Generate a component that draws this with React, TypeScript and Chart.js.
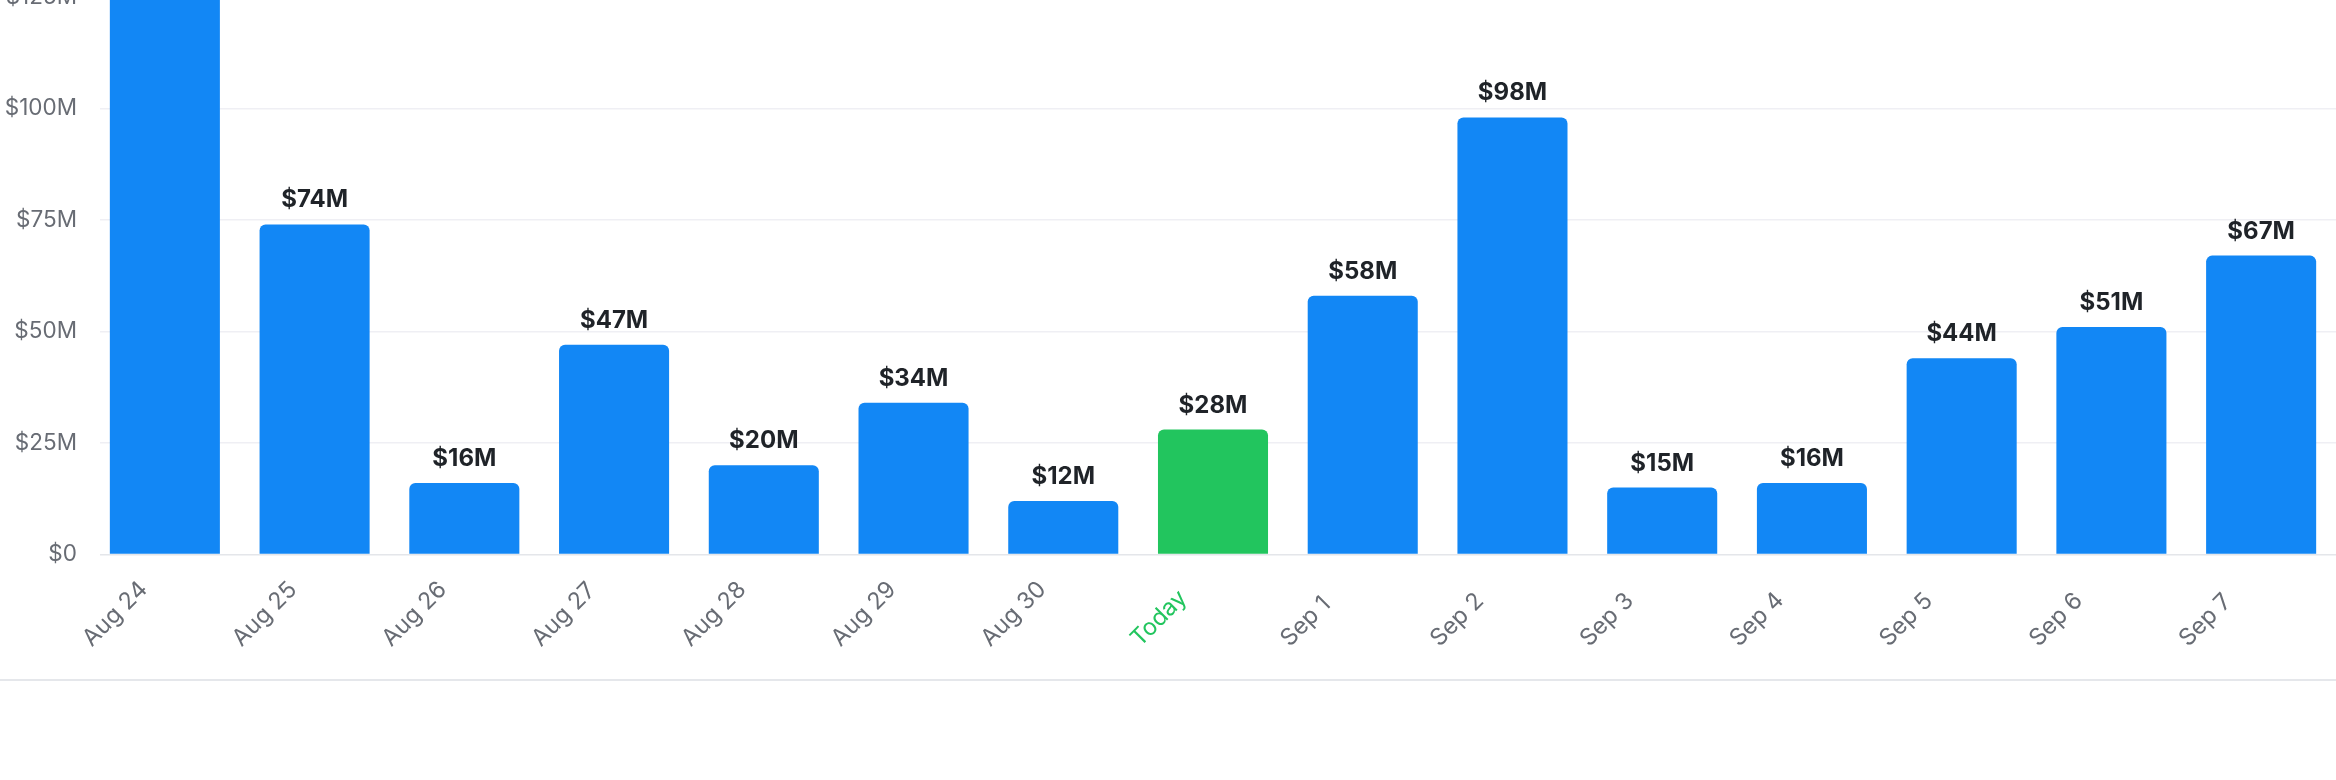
import { useEffect, useRef } from 'react';
import { Chart, registerables, Plugin } from 'chart.js';

Chart.register(...registerables);

// daily volume, in millions of dollars
const days = ['Aug 24', 'Aug 25', 'Aug 26', 'Aug 27', 'Aug 28', 'Aug 29', 'Aug 30', 'Today', 'Sep 1', 'Sep 2', 'Sep 3', 'Sep 4', 'Sep 5', 'Sep 6', 'Sep 7'];
const volumeM = [142, 74, 16, 47, 20, 34, 12, 28, 58, 98, 15, 16, 44, 51, 67];
const yTicks = [0, 25, 50, 75, 100, 125, 150];
const todayIndex = days.indexOf('Today');

const BLUE = '#1287f5';
const GREEN = '#22c55e';
const GREY = '#686c74';

const money = (v: number) => (v === 0 ? '$0' : `$${v}M`);

// grid lines start a little right of the chart area in the original
const gridInset: Plugin<'bar'> = {
	id: 'gridInset',
	beforeDatasetsDraw(chart) {
		const { ctx, chartArea } = chart;
		ctx.clearRect(chartArea.left - 1, chartArea.top - 2, 11, chartArea.bottom - chartArea.top + 4);
	},
};

const valueLabels: Plugin<'bar'> = {
	id: 'valueLabels',
	afterDatasetsDraw(chart) {
		const { ctx } = chart;
		const meta = chart.getDatasetMeta(0);
		ctx.save();
		ctx.font = '700 24px Inter';
		ctx.fillStyle = '#1f2328';
		ctx.textAlign = 'center';
		ctx.textBaseline = 'alphabetic';
		meta.data.forEach((bar, i) => {
			ctx.fillText(money(volumeM[i]), bar.x, bar.y - 17);
		});
		ctx.restore();
	},
};

// day labels start below-left of the tick and run up at 45deg
const slantedDays: Plugin<'bar'> = {
	id: 'slantedDays',
	afterDraw(chart) {
		const { ctx, chartArea } = chart;
		const x = chart.scales.x;
		ctx.save();
		ctx.font = '400 23.5px Inter';
		ctx.textAlign = 'left';
		ctx.textBaseline = 'alphabetic';
		days.forEach((d, i) => {
			ctx.save();
			ctx.translate(x.getPixelForTick(i) - 73, chartArea.bottom + 93);
			ctx.rotate(-Math.PI / 4);
			ctx.fillStyle = i === todayIndex ? GREEN : GREY;
			ctx.fillText(d, 0, 0);
			ctx.restore();
		});
		ctx.restore();
	},
};

export default function App() {
	const chartRef = useRef<HTMLCanvasElement>(null);

	useEffect(() => {
		if (!chartRef.current) return;
		const chart = new Chart(chartRef.current, {
			type: 'bar',
			data: {
				labels: days,
				datasets: [
					{
						data: volumeM,
						backgroundColor: days.map((_, i) => (i === todayIndex ? GREEN : BLUE)),
						borderRadius: 6,
						barPercentage: 0.735,
						categoryPercentage: 1,
					},
				],
			},
			options: {
				animation: false,
				responsive: true,
				maintainAspectRatio: false,
				layout: { padding: { top: 7.5, bottom: 137.6, left: 0, right: 0 } },
				plugins: { legend: { display: false }, tooltip: { enabled: false } },
				scales: {
					x: {
						offset: true,
						grid: { display: false },
						border: { display: false },
						ticks: { display: false },
					},
					y: {
						min: 0,
						max: 150,
						afterFit: (s) => {
							s.width = 90;
						},
						afterBuildTicks: (s) => {
							s.ticks = yTicks.map((value) => ({ value }));
						},
						border: { display: false },
						grid: {
							color: (c) => (c.tick && c.tick.value === 0 ? '#e4e6ea' : '#efeff4'),
							lineWidth: 1.5,
							drawTicks: false,
						},
						ticks: {
							padding: 13,
							color: GREY,
							font: { family: 'Inter', size: 22.5 },
							callback: (v) => money(Number(v)),
						},
					},
				},
			},
			plugins: [gridInset, valueLabels, slantedDays],
		});
		return () => chart.destroy();
	}, []);

	return (
		<div style={{ position: 'fixed', left: 0, top: 0, width: 2336, height: 780, overflow: 'hidden', background: '#fff' }}>
			<div style={{ position: 'absolute', left: 0, top: -141, width: 2336, height: 841 }}>
				<canvas ref={chartRef}></canvas>
			</div>
			<div style={{ position: 'absolute', left: 0, top: 679, width: 2336, height: 2, background: '#e5e7eb' }}></div>
		</div>
	);
}
